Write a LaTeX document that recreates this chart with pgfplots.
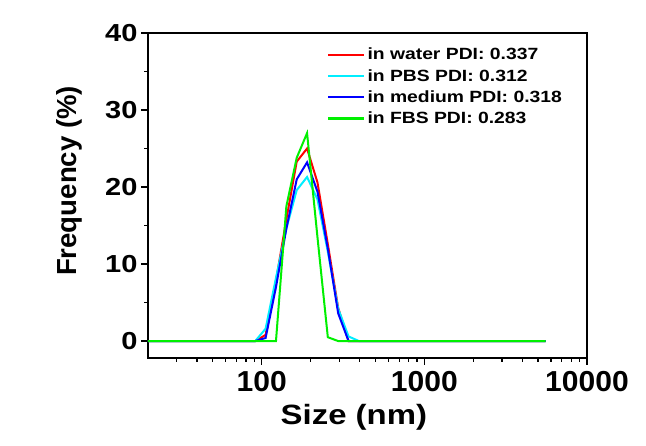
\documentclass[border=0pt]{standalone}
\usepackage{pgfplots}
\pgfplotsset{compat=1.18}
\usepackage{fontspec}
\setmainfont{Liberation Sans}
\newfontfamily\ytfont[FakeStretch=1.18]{Liberation Sans}
\newfontfamily\xtfont[FakeStretch=1.04]{Liberation Sans}
\newfontfamily\xlfont[FakeStretch=1.18]{Liberation Sans}
\newfontfamily\lgfont[FakeStretch=1.19]{Liberation Sans}
\definecolor{cred}{RGB}{255,0,0}
\definecolor{ccyan}{RGB}{0,238,255}
\definecolor{cblue}{RGB}{0,0,255}
\definecolor{cgreen}{RGB}{0,240,0}
\begin{document}
\begin{tikzpicture}
\begin{axis}[name=ax, scale only axis, width=439bp, height=325bp,
  xmode=log, xmin=20, xmax=10000, ymin=-2.2, ymax=40,
  axis line style={line width=1.6bp},
  xtick={100,1000,10000}, xticklabels={100,1000,10000},
  minor xtick={30,40,50,60,70,80,90,200,300,400,500,600,700,800,900,2000,3000,4000,5000,6000,7000,8000,9000},
  ytick={0,10,20,30,40}, minor ytick={5,15,25,35},
  tick align=outside, tick pos=left,
  major tick length=7bp, minor tick length=4bp,
  every tick/.style={black, line width=1.2bp},
  yticklabel style={font=\fontsize{24.7}{24.7}\selectfont\ytfont\bfseries},
  xticklabel style={font=\fontsize{29}{29}\selectfont\xtfont\bfseries, yshift=-3bp},
  /pgf/number format/assume math mode=true,
  xlabel={Size (nm)}, ylabel={Frequency (\%)},
  every axis y label/.style={at={(axis description cs:-0.179,0.545)}, anchor=center, rotate=90, font=\fontsize{27.7}{27.7}\selectfont\bfseries},
  every axis x label/.style={at={(axis description cs:0.469,-0.183)}, anchor=center, font=\fontsize{28}{28}\selectfont\xlfont\bfseries},
  legend style={draw=none, fill=none, at={(axis description cs:0.408,0.96)}, anchor=north west,
    font=\fontsize{16.3}{16.3}\selectfont\bfseries, row sep=4bp, inner sep=0pt,
    /tikz/every even column/.append style={column sep=5bp}},
  legend cell align=left,
  legend image code/.code={\draw[#1] (0bp,0bp) -- (36bp,0bp);},
]
\addlegendimage{draw=cred, line width=2.2bp}
\addlegendentry{\lgfont\bfseries in water PDI: 0.337}
\addlegendimage{draw=ccyan, line width=2.2bp}
\addlegendentry{\lgfont\bfseries in PBS PDI: 0.312}
\addlegendimage{draw=cblue, line width=2.2bp}
\addlegendentry{\lgfont\bfseries in medium PDI: 0.318}
\addlegendimage{draw=cgreen, line width=2.2bp}
\addlegendentry{\lgfont\bfseries in FBS PDI: 0.283}
\addplot[cred, line width=2bp, forget plot] coordinates {(18.17,0) (78.82,0) (91.28,0) (105.7,0.8) (122.4,7.8) (141.8,15.8) (164.2,23.3) (190.1,25.0) (220.2,20.6) (255.0,12.6) (295.3,4.3) (342.0,0) (396.1,0) (5560,0)};
\addplot[ccyan, line width=2bp, forget plot] coordinates {(18.17,0) (78.82,0) (91.28,0) (105.7,1.6) (122.4,8.2) (141.8,14.6) (164.2,19.6) (190.1,21.3) (220.2,18.4) (255.0,11.6) (295.3,4.2) (342.0,0.6) (396.1,0) (5560,0)};
\addplot[cblue, line width=2bp, forget plot] coordinates {(18.17,0) (78.82,0) (91.28,0) (105.7,0.4) (122.4,7.0) (141.8,14.6) (164.2,21.0) (190.1,23.2) (220.2,19.4) (255.0,12.0) (295.3,3.6) (342.0,0) (396.1,0) (5560,0)};
\addplot[cgreen, line width=2bp, forget plot] coordinates {(18.17,0) (105.7,0) (122.4,0) (141.8,17.5) (164.2,23.8) (190.1,27.0) (220.2,13.5) (255.0,0.5) (295.3,0) (342.0,0) (5560,0)};
\end{axis}
\path[use as bounding box] ([xshift=-148bp,yshift=-88bp]ax.south west) rectangle ([xshift=59bp,yshift=33bp]ax.north east);
\end{tikzpicture}
\end{document}
